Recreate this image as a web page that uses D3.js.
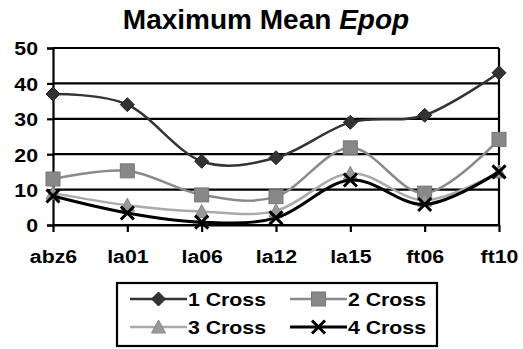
<!DOCTYPE html>
<html><head><meta charset="utf-8">
<script src="https://cdn.jsdelivr.net/npm/d3@7"></script>
<style>body{margin:0;background:#fff}svg{display:block}text{font-family:"Liberation Sans",Arial,sans-serif;font-weight:bold;fill:#000}</style>
</head><body><svg id="c" width="523" height="349"></svg>
<script>
const categories = ["abz6","la01","la06","la12","la15","ft06","ft10"];
const cross1 = [37,34,18,19,29,31,43];
const cross2 = [13,15.3,8.5,8,21.8,9,24.2];
const cross3 = [9,5.6,3.8,4,14.6,7,15];
const cross4 = [8.2,3.4,0.8,2,12.7,5.8,15];
const seriesNames = ["1 Cross","2 Cross","3 Cross","4 Cross"];
const yTicks = [0,10,20,30,40,50];

const svg = d3.select("#c");
const L=53,R=499,T=48,B=225;
const x = d3.scalePoint().domain(categories).range([L,R]);
const y = d3.scaleLinear().domain([0,50]).range([B,T]);

svg.append("text").attr("x",266).attr("y",29).attr("text-anchor","middle")
  .style("font-size","28px").text("Maximum Mean ").append("tspan").style("font-style","italic").text("Epop");

// gridlines
svg.append("g").selectAll("line").data(yTicks).join("line")
  .attr("x1",L).attr("x2",R).attr("y1",d=>y(d)).attr("y2",d=>y(d))
  .attr("stroke","#000").attr("stroke-width",2.2);
// right border
svg.append("line").attr("x1",R).attr("x2",R).attr("y1",T).attr("y2",B).attr("stroke","#000").attr("stroke-width",2.2);

const yAxis = svg.append("g").attr("transform",`translate(${L},0)`)
  .call(d3.axisLeft(y).tickValues(yTicks).tickSize(6).tickPadding(9));
yAxis.select(".domain").attr("stroke-width",2.2);
yAxis.selectAll(".tick line").attr("stroke-width",2.2);
yAxis.selectAll("text").style("font-size","19px").attr("dy","0.36em").attr("x",-13.4).attr("transform","scale(1.12,1)");

const xAxis = svg.append("g").attr("transform",`translate(0,${B})`)
  .call(d3.axisBottom(x).tickSize(7).tickPadding(18).tickSizeOuter(0));
xAxis.select(".domain").attr("stroke-width",2.2);
xAxis.selectAll(".tick line").attr("stroke-width",2.2);
xAxis.selectAll("text").style("font-size","19px").attr("dy","0.71em").attr("transform","scale(1.12,1)");

const styles = [
  {color:"#333", width:2.5, marker:"diamond", fill:"#333"},
  {color:"#8a8a8a", width:2.5, marker:"square", fill:"#888"},
  {color:"#aaa", width:2.5, marker:"triangle", fill:"#999"},
  {color:"#000", width:3, marker:"x", fill:"none"}
];
const data = [cross1,cross2,cross3,cross4];
const line = d3.line().x((d,i)=>x(categories[i])).y(d=>y(d)).curve(d3.curveCardinal.tension(0));

function drawMarker(g, type, cx, cy, s){
  if(type==="diamond"){
    g.append("path").attr("d",`M${cx},${cy-7}L${cx+7},${cy}L${cx},${cy+7}L${cx-7},${cy}Z`).attr("fill",s.fill).attr("stroke","#222").attr("stroke-width",1);
  } else if(type==="square"){
    g.append("rect").attr("x",cx-7).attr("y",cy-7).attr("width",14).attr("height",14).attr("fill",s.fill).attr("stroke","#777").attr("stroke-width",1);
  } else if(type==="triangle"){
    g.append("path").attr("d",`M${cx},${cy-7}L${cx+7},${cy+6}L${cx-7},${cy+6}Z`).attr("fill",s.fill).attr("stroke","#888").attr("stroke-width",1);
  } else {
    g.append("path").attr("d",`M${cx-6.5},${cy-6.5}L${cx+6.5},${cy+6.5}M${cx-6.5},${cy+6.5}L${cx+6.5},${cy-6.5}`).attr("stroke","#000").attr("stroke-width",3).attr("fill","none");
  }
}

data.forEach((vals,k)=>{
  const s = styles[k];
  const g = svg.append("g");
  g.append("path").datum(vals).attr("d",line).attr("fill","none").attr("stroke",s.color).attr("stroke-width",s.width);
  vals.forEach((v,i)=>drawMarker(g,s.marker,x(categories[i]),y(v),s));
});

// legend
const lg = svg.append("g");
lg.append("rect").attr("x",117).attr("y",283).attr("width",320).attr("height",63).attr("fill","#fff").attr("stroke","#000").attr("stroke-width",2.2);
const pos = [[130,299],[290,299],[130,327],[290,327]];
seriesNames.forEach((n,k)=>{
  const [lx,ly]=pos[k]; const s=styles[k];
  lg.append("line").attr("x1",lx).attr("x2",lx+57).attr("y1",ly).attr("y2",ly).attr("stroke",s.color).attr("stroke-width",s.width);
  drawMarker(lg,s.marker,lx+28.5,ly,s);
  lg.append("text").attr("transform",`translate(${lx+58},${ly+7}) scale(1.12,1)`).style("font-size","19px").text(n);
});
</script></body></html>
